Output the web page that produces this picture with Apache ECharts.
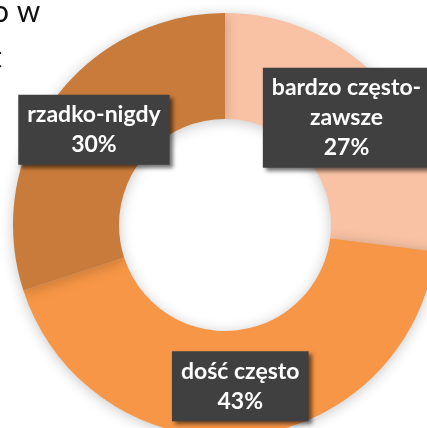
<!DOCTYPE html>
<html>
<head>
<meta charset="utf-8">
<script src="https://cdn.jsdelivr.net/npm/echarts@6/dist/echarts.min.js"></script>
<style>html,body{margin:0;padding:0;background:#fff}#c{width:427px;height:428px}</style>
</head>
<body>
<div id="c"></div>
<script>
const categories = ['bardzo często-\nzawsze', 'dość często', 'rzadko-nigdy'];
const values = [27, 43, 30];
const colors = ['#F9C2A4', '#F79646', '#C97B3B'];
const titleFragments = ['o w', 't'];

const chart = echarts.init(document.getElementById('c'), null, {renderer: 'canvas'});
chart.setOption({
  backgroundColor: '#ffffff',
  animation: false,
  graphic: [
    {type: 'text', left: -8, top: -3, style: {text: titleFragments[0], font: '30px Lato', fill: '#111'}},
    {type: 'text', left: -9, top: 43, style: {text: titleFragments[1], font: '30px Lato', fill: '#111'}}
  ],
  series: [{
    type: 'pie',
    center: [225, 225],
    radius: [106, 212],
    startAngle: 90,
    clockwise: true,
    avoidLabelOverlap: false,
    data: categories.map((c, i) => ({name: c, value: values[i], itemStyle: {color: colors[i]}})),
    itemStyle: {
      shadowColor: 'rgba(0,0,0,0.22)',
      shadowBlur: 14,
      shadowOffsetX: 0,
      shadowOffsetY: 2
    },
    label: {
      show: true,
      position: 'inside',
      formatter: p => p.name + '\n' + Math.round(p.percent) + '%',
      color: '#ffffff',
      fontFamily: 'Lato',
      fontWeight: 'bold',
      fontSize: 23,
      lineHeight: 30,
      align: 'center',
      backgroundColor: '#404040',
      padding: [5, 9],
      shadowColor: 'rgba(0,0,0,0.55)',
      shadowBlur: 4,
      shadowOffsetX: 3,
      shadowOffsetY: 3
    },
    labelLine: {show: false},
    emphasis: {disabled: true}
  }]
});
</script>
</body>
</html>
